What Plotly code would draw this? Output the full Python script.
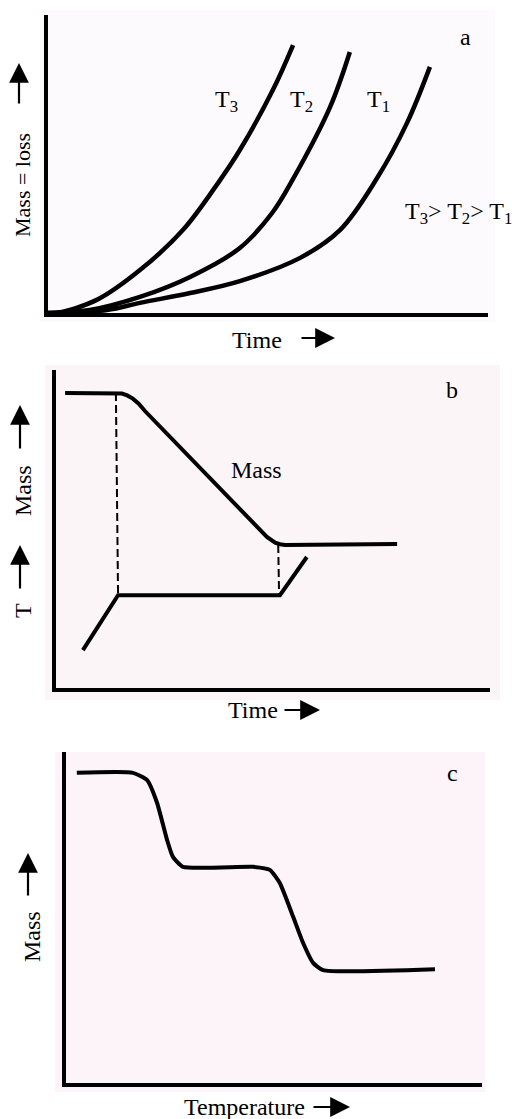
import plotly.graph_objects as go

# ---- Panel a: mass loss vs time at three temperatures (isothermal) ----
a_t3_time = [0.0, 0.20, 1.11, 2.09, 3.07, 3.91, 4.36, 5.11, 5.57]
a_t3_loss = [0.0, 0.0, 0.44, 1.44, 2.79, 4.46, 5.47, 7.48, 8.99]
a_t2_time = [0.0, 0.95, 2.09, 3.23, 4.36, 5.11, 5.57, 6.41, 6.86]
a_t2_loss = [0.0, 0.10, 0.54, 1.21, 2.18, 3.39, 4.50, 6.91, 8.76]
a_t1_time = [0.0, 1.34, 2.09, 3.23, 4.36, 5.73, 6.64, 7.48, 8.16, 8.68]
a_t1_loss = [0.0, 0.10, 0.34, 0.67, 1.07, 1.85, 2.79, 4.53, 6.38, 8.26]
a_curve_labels = ["T<sub>3</sub>", "T<sub>2</sub>", "T<sub>1</sub>"]
a_label_time = [4.05, 5.77, 7.50]
a_label_loss = [7.11, 7.11, 7.11]

# ---- Panel b: mass and temperature vs time ----
b_mass_time = [0.21, 1.41, 1.52, 1.64, 1.77, 1.90, 2.05, 4.86, 4.95, 5.05, 5.16, 5.28, 7.86]
b_mass_val = [9.28, 9.28, 9.26, 9.20, 9.10, 8.95, 8.71, 4.75, 4.65, 4.57, 4.52, 4.50, 4.53]
b_temp_time = [0.62, 1.43, 5.16, 5.78]
b_temp_val = [1.19, 2.92, 2.92, 4.12]
b_guide1_time = [1.38, 1.43]
b_guide1_val = [9.28, 2.92]
b_guide2_time = [5.12, 5.14]
b_guide2_val = [4.50, 2.92]

# ---- Panel c: two-step mass loss vs temperature ----
c_temp = [0.26, 1.61, 1.95, 2.19, 2.43, 2.57, 2.81, 4.50, 4.90, 5.14, 5.46, 5.70, 5.94, 6.18, 8.87]
c_mass = [9.37, 9.37, 9.15, 8.46, 7.34, 6.83, 6.53, 6.53, 6.44, 6.04, 5.02, 4.23, 3.63, 3.41, 3.44]

W, H = 512, 1119
FONT = "Liberation Serif, Times New Roman, serif"


def px(x):
    return x / W


def py(y):
    return 1 - y / H


fig = go.Figure()

line_a = dict(color="black", width=4.5, shape="spline", smoothing=1.0)
for xs, ys in [(a_t3_time, a_t3_loss), (a_t2_time, a_t2_loss), (a_t1_time, a_t1_loss)]:
    fig.add_trace(go.Scatter(x=xs, y=ys, mode="lines", line=line_a, xaxis="x", yaxis="y"))

fig.add_trace(go.Scatter(x=b_mass_time, y=b_mass_val, mode="lines",
                         line=dict(color="black", width=4), xaxis="x2", yaxis="y2"))
fig.add_trace(go.Scatter(x=b_temp_time, y=b_temp_val, mode="lines",
                         line=dict(color="black", width=4), xaxis="x2", yaxis="y2"))
dash_line = dict(color="black", width=2, dash="8px,4px")
fig.add_trace(go.Scatter(x=b_guide1_time, y=b_guide1_val, mode="lines", line=dash_line, xaxis="x2", yaxis="y2"))
fig.add_trace(go.Scatter(x=b_guide2_time, y=b_guide2_val, mode="lines", line=dash_line, xaxis="x2", yaxis="y2"))

fig.add_trace(go.Scatter(x=c_temp, y=c_mass, mode="lines",
                         line=dict(color="black", width=4, shape="spline", smoothing=0.5), xaxis="x3", yaxis="y3"))

axis_style = dict(range=[0, 10], showline=True, linewidth=3.5, linecolor="black",
                  showgrid=False, zeroline=False, showticklabels=False, ticks="", fixedrange=True)

fig.update_layout(
    width=W, height=H,
    margin=dict(l=0, r=0, t=0, b=0),
    paper_bgcolor="white", plot_bgcolor="rgba(0,0,0,0)",
    showlegend=False,
    xaxis=dict(axis_style, domain=[px(48), px(488)], anchor="y"),
    yaxis=dict(axis_style, domain=[py(313), py(15)], anchor="x"),
    xaxis2=dict(axis_style, domain=[px(56), px(490)], anchor="y2"),
    yaxis2=dict(axis_style, domain=[py(688), py(370)], anchor="x2"),
    xaxis3=dict(axis_style, domain=[px(66), px(482)], anchor="y3"),
    yaxis3=dict(axis_style, domain=[py(1083), py(752)], anchor="x3"),
)

# faint tinted panel backgrounds
for (x0, y0, x1, y1, col) in [(40, 10, 495, 322, "#fdfafd"),
                              (45, 365, 500, 700, "#fcf5f8"),
                              (55, 752, 485, 1092, "#fcf4f8")]:
    fig.add_shape(type="rect", xref="paper", yref="paper", x0=px(x0), x1=px(x1), y0=py(y1), y1=py(y0),
                  fillcolor=col, line=dict(width=0), layer="below")

ann = []
txt = dict(family=FONT, size=24, color="black")


def label(text, x, y, xref="paper", yref="paper", angle=0, size=24, xanchor="center"):
    if xref == "paper":
        x, y = px(x), py(y)
    return dict(text=text, x=x, y=y, xref=xref, yref=yref, textangle=angle,
                xanchor=xanchor, yanchor="middle", showarrow=False, font=dict(txt, size=size))


# panel a texts
ann.append(label("a", 9.48, 9.26, "x", "y"))
for lab, lx, ly in zip(a_curve_labels, a_label_time, a_label_loss):
    ann.append(label(lab, lx, ly, "x", "y"))
ann.append(label("T<sub>3</sub>> T<sub>2</sub>> T<sub>1</sub>", 8.07, 3.36, "x", "y", xanchor="left"))
ann.append(label("Mass = loss", 23, 185, angle=-90, size=22))
ann.append(label("Time", 257, 340))

# panel b texts
ann.append(label("b", 9.12, 9.37, "x2", "y2"))
ann.append(label("Mass", 4.63, 6.86, "x2", "y2"))
ann.append(label("Mass", 23, 491, angle=-90))
ann.append(label("T", 23, 611, angle=-90))
ann.append(label("Time", 253, 710))

# panel c texts
ann.append(label("c", 9.28, 9.37, "x3", "y3"))
ann.append(label("Mass", 32, 937, angle=-90))
ann.append(label("Temperature", 244, 1107))

# direction arrows: (tip_x, tip_y, tail_x, tail_y) in pixels
arrows = [(19, 63, 19, 105), (335, 338, 300, 338),
          (20, 405, 20, 450), (20, 545, 20, 590), (320, 710, 283, 710),
          (28, 853, 28, 897), (350, 1107, 312, 1107)]
for tx, ty, sx, sy in arrows:
    ann.append(dict(text="", x=px(tx), y=py(ty), xref="paper", yref="paper",
                    ax=sx - tx, ay=sy - ty, axref="pixel", ayref="pixel",
                    showarrow=True, arrowhead=2, arrowsize=1.8, arrowwidth=2.2,
                    arrowcolor="black", standoff=0, startstandoff=0))

fig.update_layout(annotations=ann)

fig.write_html("out.html")
